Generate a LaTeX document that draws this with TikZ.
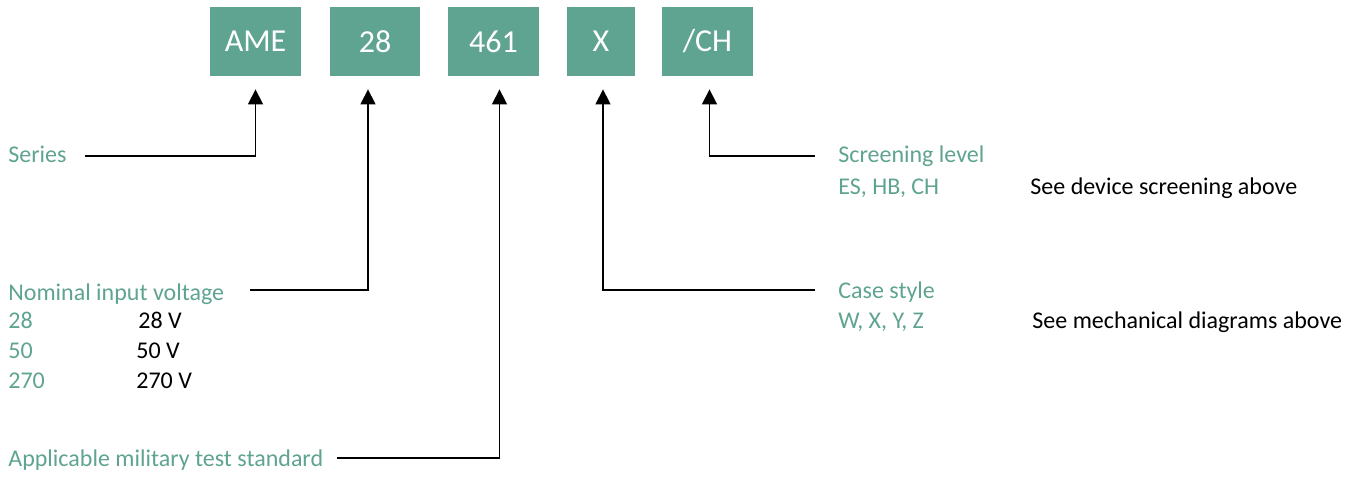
\documentclass[tikz,border=0pt]{standalone}
\usepackage{fontspec}
\setmainfont{Carlito}
\usepackage{tikz}
\usetikzlibrary{arrows.meta}
\definecolor{tealbox}{RGB}{95,163,145}

\begin{document}
\begin{tikzpicture}[x=0.5pt,y=-0.5pt,
  font=\fontsize{12}{14}\selectfont,
  codebox/.style={fill=tealbox,text=white,minimum height=34.5pt,
    inner sep=0pt,font=\fontsize{16}{18}\selectfont},
  keyn/.style={anchor=base west,text=tealbox,inner sep=0pt},
  valn/.style={anchor=base west,inner sep=0pt},
  conn/.style={draw=black,line width=0.75pt,
    -{Triangle[width=7.5pt,length=7.5pt]}}]
  \useasboundingbox (0,0) rectangle (1358,478);
  % part number boxes
  \node[codebox,minimum width=45.5pt] (ame) at (255.5,41.5) {AME};
  \node[codebox,minimum width=45pt] (b28) at (375,41.5) {28};
  \node[codebox,minimum width=45.5pt] (b461) at (493.5,41.5) {461};
  \node[codebox,minimum width=34pt] (bx) at (601,41.5) {X};
  \node[codebox,minimum width=45.5pt] (bch) at (707.5,41.5) {/CH};
  % left side
  \node[keyn] (ser) at (8,162) {Series};
  \node[keyn] (nom) at (8,300) {Nominal input voltage};
  \node[keyn] (n28) at (8,328) {28};
  \node[valn] (v28) at (138,328) {28 V};
  \node[keyn] (n50) at (8,358) {50};
  \node[valn] (v50) at (136,358) {50 V};
  \node[keyn] (n270) at (8,388) {270};
  \node[valn] (v270) at (136,388) {270 V};
  \node[keyn] (mil) at (8,466) {Applicable military test standard};
  % right side
  \node[keyn] (scr) at (838,162) {Screening level};
  \node[keyn] (scrl) at (838,194) {ES, HB, CH};
  \node[valn] (scrv) at (1030,194) {See device screening above};
  \node[keyn] (cas) at (838,298) {Case style};
  \node[keyn] (casl) at (838,328) {W, X, Y, Z};
  \node[valn] (casv) at (1032,328) {See mechanical diagrams above};
  % connectors
  \coordinate (serend) at (85,156);
  \coordinate (nomend) at (250,290);
  \coordinate (milend) at (337,458);
  \coordinate (casend) at (815,290);
  \coordinate (scrend) at (815,156);
  \draw[conn] (serend) -| ([yshift=-6.5pt]ame.south);
  \draw[conn] (nomend) -| ([xshift=-3.5pt,yshift=-6.5pt]b28.south);
  \draw[conn] (milend) -| ([xshift=3pt,yshift=-6.5pt]b461.south);
  \draw[conn] (casend) -| ([xshift=1pt,yshift=-6.5pt]bx.south);
  \draw[conn] (scrend) -| ([xshift=1pt,yshift=-6.5pt]bch.south);
\end{tikzpicture}
\end{document}
